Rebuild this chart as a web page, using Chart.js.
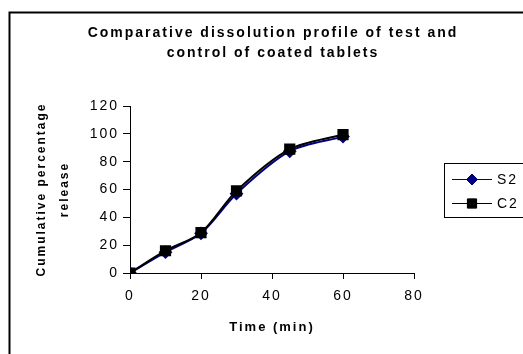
<!DOCTYPE html>
<html>
<head>
<meta charset="utf-8">
<title>Dissolution profile</title>
<script src="https://cdn.jsdelivr.net/npm/chart.js@4/dist/chart.umd.min.js"></script>
<style>
  html, body { margin: 0; padding: 0; background: #fff; }
  canvas { display: block; }
</style>
</head>
<body>
<canvas id="dissolucionChart" width="523" height="354"></canvas>
<script>
// sampling times and cumulative release (%)
const timeMin = [0, 10, 20, 30, 45, 60];
const s2Release = [0, 15, 28.5, 57, 87.5, 98];
const c2Release = [0, 16, 29, 59, 89, 99.5];

const xTicks = [0, 20, 40, 60, 80];
const yTicks = [0, 20, 40, 60, 80, 100, 120];

const titleLines = ['Comparative dissolution profile of test and', 'control of coated tablets'];
const seriesNames = ['S2', 'C2'];

const FONT = "'Liberation Sans', Arial, sans-serif";

function toPoints(values) {
    return timeMin.map((t, i) => ({ x: t, y: values[i] }));
}

// title, legend box and outer frame, drawn on top of the chart
const decoPlugin = {
    id: 'deco',
    beforeDraw(chart) {
        chart.ctx.letterSpacing = '2px';
    },
    afterDraw(chart) {
        const ctx = chart.ctx;
        ctx.save();

        // outer frame
        ctx.strokeStyle = '#000';
        ctx.lineWidth = 2;
        ctx.strokeRect(9.5, 12.5, 620, 420);

        // title
        ctx.fillStyle = '#000';
        ctx.font = 'bold 14px ' + FONT;
        ctx.textAlign = 'center';
        ctx.textBaseline = 'middle';
        ctx.fillText(titleLines[0], 273, 33);
        ctx.fillText(titleLines[1], 273, 53);

        // legend
        ctx.lineWidth = 1;
        ctx.strokeRect(444.5, 163.5, 100, 54);
        const rows = [
            { name: seriesNames[0], color: '#000080', y: 179, style: 'rectRot', r: 5.5 },
            { name: seriesNames[1], color: '#000000', y: 203, style: 'rect', r: 6.5 }
        ];
        rows.forEach(row => {
            ctx.strokeStyle = row.color;
            ctx.lineWidth = 1;
            ctx.beginPath();
            ctx.moveTo(452, row.y + 0.5);
            ctx.lineTo(492, row.y + 0.5);
            ctx.stroke();
            Chart.helpers.drawPoint(ctx, {
                pointStyle: row.style, radius: row.r, borderWidth: 1, rotation: 0
            }, 472, row.y + 0.5);
            ctx.fillStyle = row.color;
            ctx.fill();
            ctx.fillStyle = '#000';
            ctx.font = '14px ' + FONT;
            ctx.textAlign = 'left';
            ctx.textBaseline = 'middle';
            ctx.fillText(row.name, 497, row.y + 1);
        });

        ctx.restore();
    }
};

Chart.defaults.color = '#000';
Chart.defaults.font.family = FONT;

new Chart(document.getElementById('dissolucionChart'), {
    type: 'scatter',
    data: {
        datasets: [{
            label: seriesNames[0],
            data: toPoints(s2Release),
            showLine: true,
            tension: 0.3,
            borderColor: '#000080',
            backgroundColor: '#000080',
            borderWidth: 2,
            pointStyle: 'rectRot',
            pointRadius: 5.5,
            order: 2
        }, {
            label: seriesNames[1],
            data: toPoints(c2Release),
            showLine: true,
            tension: 0.3,
            borderColor: '#000000',
            backgroundColor: '#000000',
            borderWidth: 2,
            pointStyle: 'rect',
            pointRadius: 6.5,
            order: 1
        }]
    },
    options: {
        responsive: false,
        animation: false,
        layout: { padding: { left: 10, top: 106, right: 109, bottom: 0 } },
        plugins: {
            legend: { display: false },
            title: { display: false },
            tooltip: { enabled: false }
        },
        scales: {
            x: {
                type: 'linear',
                min: 0,
                max: 80,
                afterBuildTicks: scale => { scale.ticks = xTicks.map(v => ({ value: v })); },
                afterFit: scale => { scale.height = 81; },
                grid: { drawOnChartArea: false, drawTicks: true, tickLength: 6, color: '#000' },
                border: { color: '#000', width: 1 },
                ticks: { font: { size: 14 }, padding: 9, maxRotation: 0 },
                title: {
                    display: true,
                    text: 'Time (min)',
                    font: { size: 13, weight: 'bold', lineHeight: '16px' },
                    padding: { top: 0, bottom: 19 }
                }
            },
            y: {
                type: 'linear',
                min: 0,
                max: 120,
                afterBuildTicks: scale => { scale.ticks = yTicks.map(v => ({ value: v })); },
                afterFit: scale => { scale.width = 120; },
                grid: { drawOnChartArea: false, drawTicks: true, tickLength: 7, color: '#000' },
                border: { color: '#000', width: 1 },
                ticks: { font: { size: 14 }, padding: 4 },
                title: {
                    display: true,
                    text: ['Cumulative percentage', 'release'],
                    font: { size: 12, weight: 'bold', lineHeight: '23px' },
                    padding: { top: 20.5, bottom: 0 }
                }
            }
        }
    },
    plugins: [decoPlugin]
});
</script>
</body>
</html>
